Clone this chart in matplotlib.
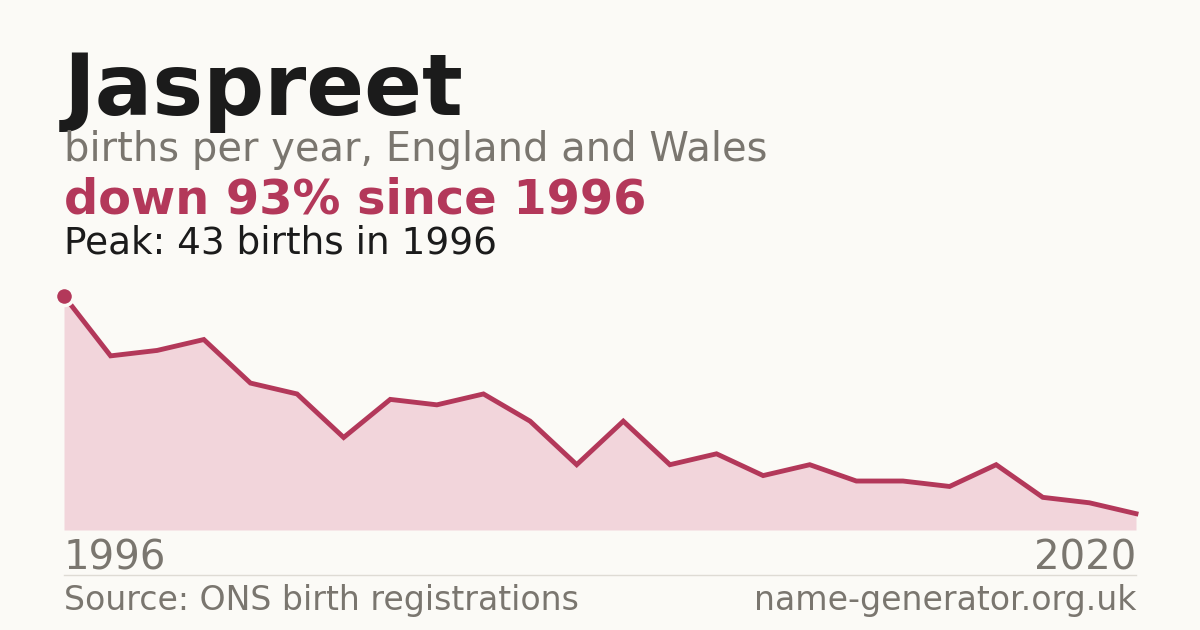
import matplotlib
matplotlib.use("Agg")
import matplotlib.pyplot as plt

first_year, last_year = 1996, 2020
births = [43, 32, 33, 35, 27, 25, 17, 24, 23, 25, 20, 12, 20, 12, 14, 10, 12, 9, 9, 8, 12, 6, 5, 3]

name = "Jaspreet"
subtitle = "births per year, England and Wales"
headline = "down 93% since 1996"
peak_text = "Peak: 43 births in 1996"
source = "Source: ONS birth registrations"
site = "name-generator.org.uk"

BG = "#fbfaf6"
RED = "#b3385a"
FILL = "#f2d5db"
GREY = "#7a766f"
DARK = "#1b1b1b"

W, H = 1200, 630
fig = plt.figure(figsize=(12, 6.3), dpi=100, facecolor=BG)

def fy(py):
    return 1 - py / H

xs = list(range(len(births)))

ax = fig.add_axes([64 / W, fy(530), (1136 - 64) / W, (530 - 296) / H])
ax.set_facecolor(BG)
ax.fill_between(xs, births, 0, color=FILL, lw=0, zorder=1)
ax.plot(xs, births, color=RED, lw=3.5, solid_joinstyle="miter", zorder=2, clip_on=False)
ax.plot([xs[0]], [births[0]], "o", ms=13, color=RED, mec=BG, mew=2.5, zorder=3, clip_on=False)
ax.set_xlim(xs[0], xs[-1])
ax.set_ylim(0, max(births))
ax.axis("off")

fig.text(64 / W, fy(115), name, fontsize=61.5, fontweight="bold", color=DARK, va="baseline", ha="left")
fig.text(64 / W, fy(161), subtitle, fontsize=28.8, color=GREY, va="baseline", ha="left")
fig.text(64 / W, fy(214), headline, fontsize=34.5, fontweight="bold", color=RED, va="baseline", ha="left")
fig.text(64 / W, fy(254), peak_text, fontsize=26.9, color=DARK, va="baseline", ha="left")

fig.text(64 / W, fy(570), str(first_year), fontsize=29, color=GREY, va="baseline", ha="left")
fig.text(1136 / W, fy(570), str(last_year), fontsize=29, color=GREY, va="baseline", ha="right")

fig.add_artist(plt.Line2D([64 / W, 1136 / W], [fy(574.5), fy(574.5)], color="#dedbd4", lw=1))

fig.text(64 / W, fy(610), source, fontsize=23.9, color=GREY, va="baseline", ha="left")
fig.text(1136 / W, fy(610), site, fontsize=23.9, color=GREY, va="baseline", ha="right")

fig.savefig("out.png", dpi=100, facecolor=BG)
